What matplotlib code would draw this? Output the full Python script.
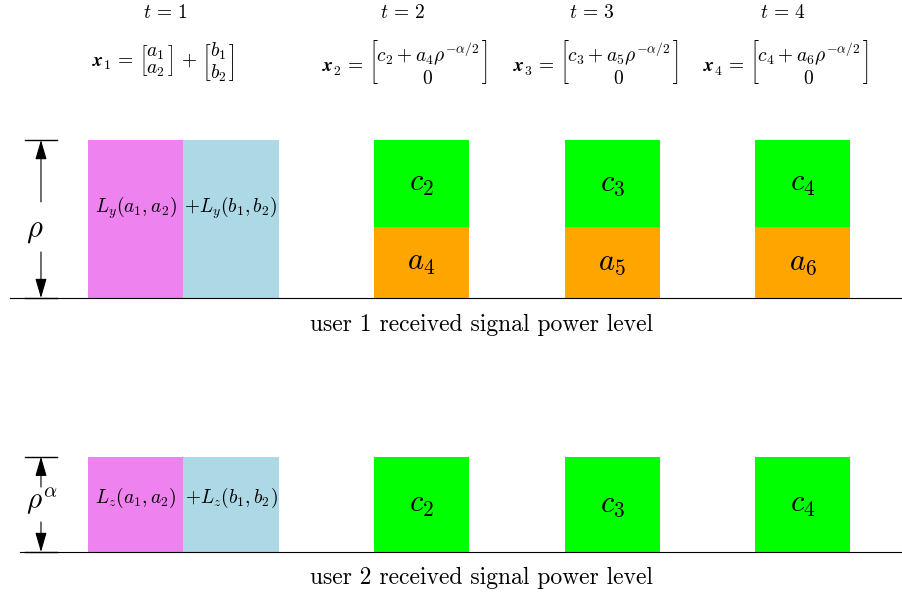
import matplotlib
matplotlib.use("Agg")
import matplotlib.pyplot as plt
from matplotlib.patches import Rectangle

plt.rcParams['mathtext.fontset'] = 'cm'

# donnees du schema (unite = largeur d'un bloc)
times = [1, 2, 3, 4]
eq_labels = [r'$\mathbfit{x}_1 \,=\, \genfrac{[}{]}{0}{0}{a_1}{a_2} \,+\, \genfrac{[}{]}{0}{0}{b_1}{b_2}$',
             r'$\mathbfit{x}_2 \,=\, \genfrac{[}{]}{0}{0}{c_2 + a_4\rho^{-\alpha/2}}{0}$',
             r'$\mathbfit{x}_3 \,=\, \genfrac{[}{]}{0}{0}{c_3 + a_5\rho^{-\alpha/2}}{0}$',
             r'$\mathbfit{x}_4 \,=\, \genfrac{[}{]}{0}{0}{c_4 + a_6\rho^{-\alpha/2}}{0}$']
layer_x = [0, 1]
layer_colors = ['violet', 'lightblue']
layer_labels_y = [r'$L_y(a_1,a_2)$', r'$+L_y(b_1,b_2)$']
layer_labels_z = [r'$L_z(a_1,a_2)$', r'$+L_z(b_1,b_2)$']
bar_x = [3, 5, 7]
a_labels = [r'$a_4$', r'$a_5$', r'$a_6$']
c_labels = [r'$c_2$', r'$c_3$', r'$c_4$']
rho_top = 1.658        # hauteur rho (utilisateur 1)
a_height = 0.745
c_height_top = 0.913
rho_alpha = 1.0        # hauteur rho^alpha (utilisateur 2)
base_top = 2.665
base_bot = 0.0

fig = plt.figure(figsize=(9.02, 5.95), dpi=100)
ax = fig.add_axes([0, 0, 1, 1])
ax.set_xlim(-0.923, 8.541)
ax.set_ylim(-0.451, 5.792)
ax.axis('off')

# utilisateur 1
for x, col, lab in zip(layer_x, layer_colors, layer_labels_y):
    ax.add_patch(Rectangle((x, base_top), 1, rho_top, color=col, lw=0))
    ax.text(x + 0.5, base_top + 0.95, lab, ha='center', va='center', fontsize=14)
for x, al, cl in zip(bar_x, a_labels, c_labels):
    ax.add_patch(Rectangle((x, base_top), 1, a_height, color='orange', lw=0))
    ax.add_patch(Rectangle((x, base_top + a_height), 1, c_height_top, color='lime', lw=0))
    ax.text(x + 0.5, base_top + a_height / 2, al, ha='center', va='center', fontsize=22)
    ax.text(x + 0.5, base_top + a_height + c_height_top / 2, cl, ha='center', va='center', fontsize=22)
ax.plot([-0.818, 8.541], [base_top, base_top], color='k', lw=0.8)

# utilisateur 2
for x, col, lab in zip(layer_x, layer_colors, layer_labels_z):
    ax.add_patch(Rectangle((x, base_bot), 1, rho_alpha, color=col, lw=0))
    ax.text(x + 0.5, base_bot + 0.57, lab, ha='center', va='center', fontsize=14)
for x, cl in zip(bar_x, c_labels):
    ax.add_patch(Rectangle((x, base_bot), 1, rho_alpha, color='lime', lw=0))
    ax.text(x + 0.5, base_bot + rho_alpha / 2, cl, ha='center', va='center', fontsize=22)
ax.plot([-0.713, 8.541], [base_bot, base_bot], color='k', lw=0.8)

# cotes
def cote(y0, h, gap0, gap1, label, lx, ly, fs):
    xa = -0.493
    for y in (y0, y0 + h):
        ax.plot([-0.661, -0.325], [y, y], color='k', lw=1)
    style = '-|>,head_length=1.2,head_width=0.35'
    ax.annotate('', xy=(xa, y0 + h), xytext=(xa, y0 + gap1),
                arrowprops=dict(arrowstyle=style, color='k', lw=0.8, mutation_scale=10, shrinkA=0, shrinkB=0))
    ax.annotate('', xy=(xa, y0), xytext=(xa, y0 + gap0),
                arrowprops=dict(arrowstyle=style, color='k', lw=0.8, mutation_scale=10, shrinkA=0, shrinkB=0))
    ax.text(lx, ly, label, ha='center', va='center', fontsize=fs)

cote(base_top, rho_top, 0.483, 1.008, r'$\rho$', -0.555, 3.37, 22)
cote(base_bot, rho_alpha, 0.315, 0.682, r'$\rho^\alpha$', -0.49, 0.53, 21)

# en-tetes
t_x = [0.808, 3.305, 5.289, 7.293]
eq_x = [0.787, 3.326, 5.33, 7.32]
for tx, ex, t, eq in zip(t_x, eq_x, times, eq_labels):
    ax.text(tx, 5.656, r'$t\,=\,%d$' % t, ha='center', va='center', fontsize=14)
    ax.text(ex, 5.14, eq, ha='center', va='center', fontsize=14)

ax.text(4.124, 2.382, 'user 1 received signal power level', ha='center', va='center',
        fontsize=17, family='cmr10')
ax.text(4.124, -0.273, 'user 2 received signal power level', ha='center', va='center',
        fontsize=17, family='cmr10')

fig.savefig('out.png', dpi=100)
